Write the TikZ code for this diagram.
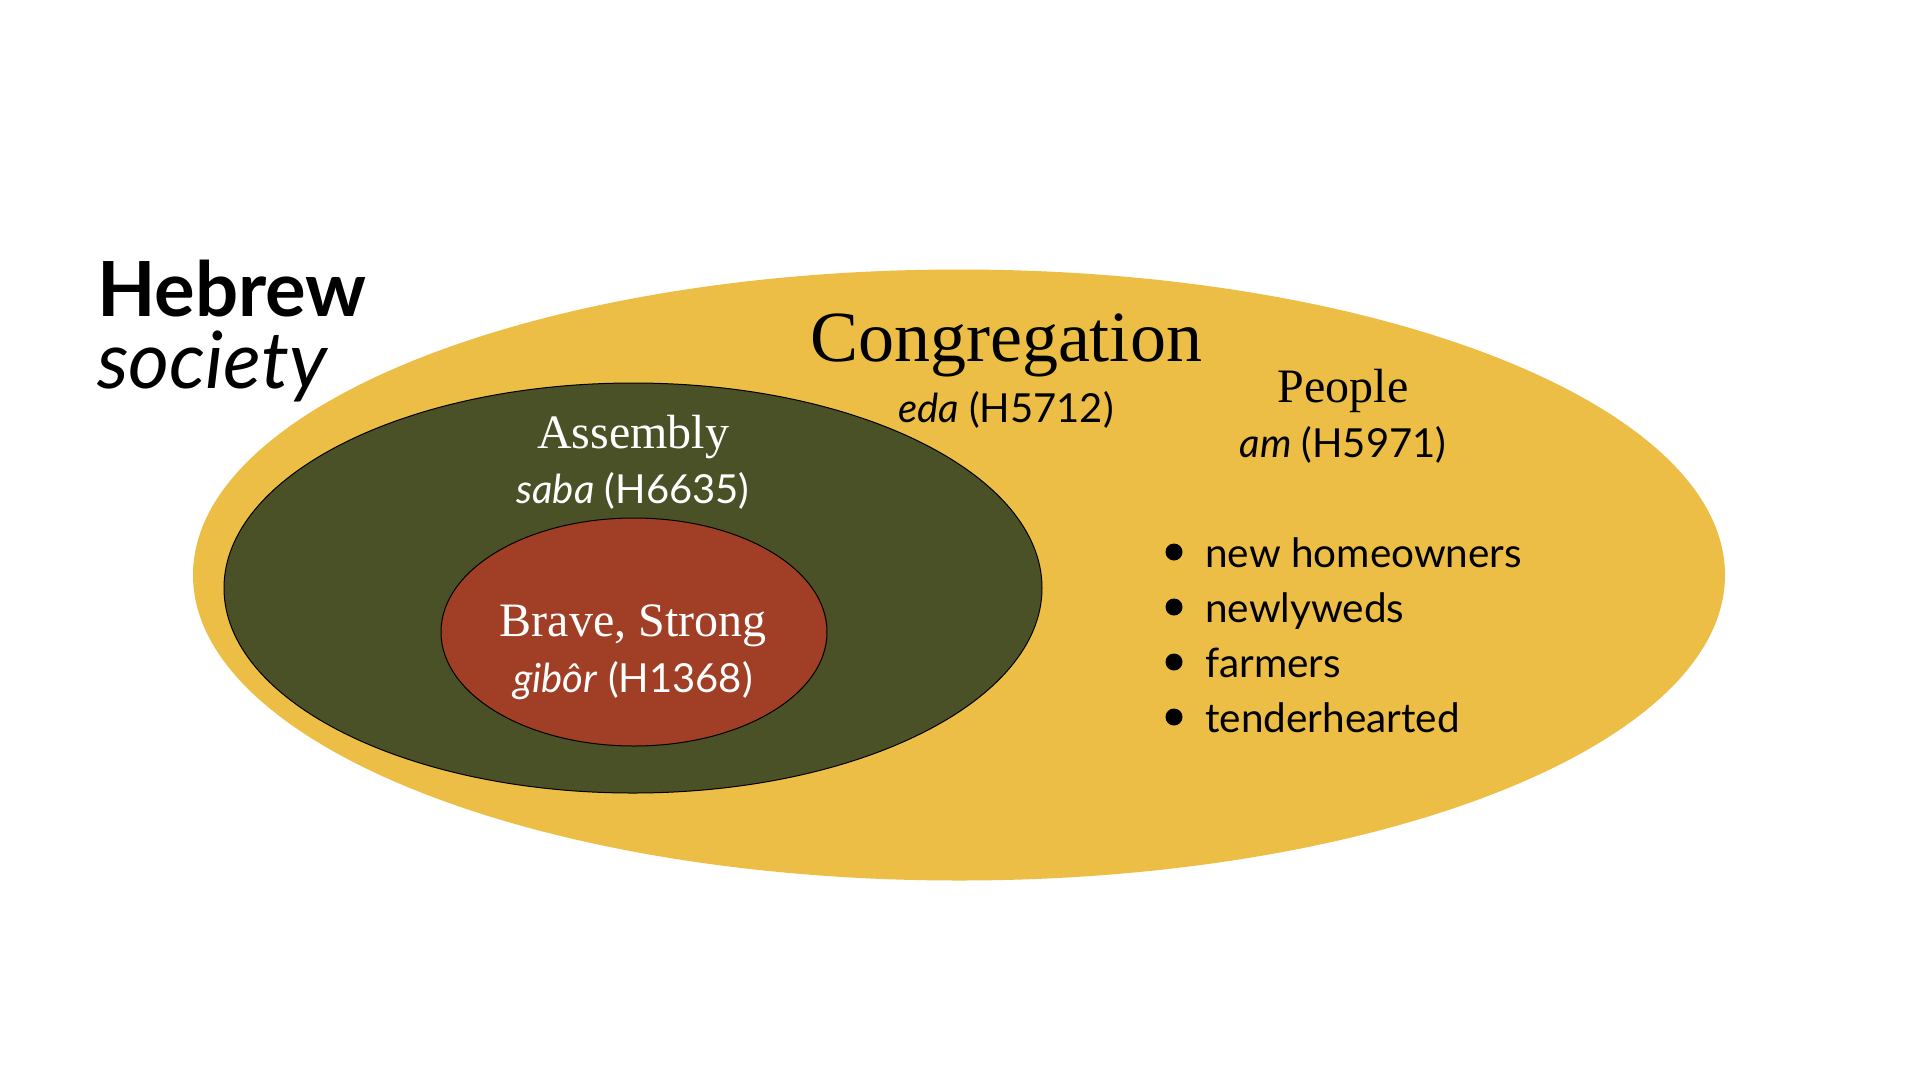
\documentclass[tikz,border=0pt]{standalone}
\usepackage{fontspec}
\setmainfont{Liberation Serif}
\setsansfont{Lato}
\usetikzlibrary{shapes.geometric}
\definecolor{gold}{HTML}{EDBE45}
\definecolor{olive}{HTML}{4B5126}
\definecolor{rust}{HTML}{A13E26}
\begin{document}
\begin{tikzpicture}[x=1pt,y=-1pt,
  oval/.style={ellipse, inner sep=0pt},
  serifbig/.style={anchor=base, inner sep=0pt, font=\fontsize{72}{86}\selectfont},
  serifmid/.style={anchor=base, inner sep=0pt, font=\fontsize{48}{58}\selectfont},
  sanslab/.style={anchor=base, inner sep=0pt, font=\sffamily\fontsize{40}{48}\selectfont},
  listitem/.style={anchor=base west, inner sep=0pt, font=\sffamily\fontsize{40.5}{48}\selectfont},
  dot/.style={circle, fill=black, minimum size=17pt, inner sep=0pt},
  title/.style={anchor=base west, inner sep=0pt, font=\sffamily\fontsize{76}{90}\selectfont}]
\useasboundingbox (0,0) rectangle (1920,1080);
\fill[white] (0,0) rectangle (1920,1080);
\node[oval, fill=gold, minimum width=1532pt, minimum height=611pt] (cong) at (959,575) {};
\node[oval, fill=olive, draw=black, line width=1pt, minimum width=818pt, minimum height=410pt] (assem) at (633,588) {};
\node[oval, fill=rust, draw=black, line width=1pt, minimum width=386pt, minimum height=228pt] (brave) at (634,632) {};
\node[title] (heb) at (97,316) {\bfseries Hebrew};
\node[title, font=\sffamily\fontsize{79}{90}\selectfont] (soc) at (97,388) {\itshape society};
\node[serifbig] (congt) at (1006,361) {Congregation};
\node[sanslab] (eda) at (1006,422) {\itshape eda\/\upshape{} (H5712)};
\node[serifmid] (peo) at (1343,402) {People};
\node[sanslab] (am) at (1343,457) {\itshape am\/\upshape{} (H5971)};
\node[serifmid, text=white] (asst) at (633,448) {Assembly};
\node[sanslab, text=white] (saba) at (633,503) {\itshape saba\/\upshape{} (H6635)};
\node[serifmid, text=white] (bravet) at (633,636) {Brave, Strong};
\node[sanslab, text=white] (gib) at (633,692) {\itshape gibôr\/\upshape{} (H1368)};
\node[dot] (d1) at (1174,552) {};
\node[dot] (d2) at (1174,607) {};
\node[dot] (d3) at (1174,662) {};
\node[dot] (d4) at (1174,717) {};
\node[listitem] (l1) at (1205,567) {new homeowners};
\node[listitem] (l2) at (1205,622) {newlyweds};
\node[listitem] (l3) at (1205,677) {farmers};
\node[listitem] (l4) at (1205,732) {tenderhearted};
\end{tikzpicture}
\end{document}
